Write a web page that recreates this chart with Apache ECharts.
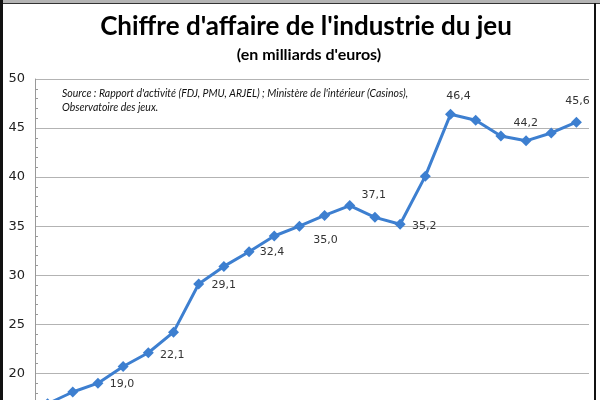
<!DOCTYPE html>
<html><head><meta charset="utf-8">
<script src="https://cdn.jsdelivr.net/npm/echarts@6/dist/echarts.min.js"></script>
<style>html,body{margin:0;padding:0;background:#fff;overflow:hidden}#c{width:600px;height:423px}</style>
</head><body><div id="c"></div>
<script>
// Data (22 yearly points; the x-axis labels are cut off in the reference)
const categories = ['1990','1991','1992','1993','1994','1995','1996','1997','1998','1999','2000','2001','2002','2003','2004','2005','2006','2007','2008','2009','2010','2011'];
const values = [16.9, 18.1, 19.0, 20.7, 22.1, 24.2, 29.1, 30.9, 32.4, 34.0, 35.0, 36.1, 37.1, 35.9, 35.2, 40.1, 46.4, 45.8, 44.2, 43.7, 44.5, 45.6];
const labelledIdx = [2, 4, 6, 8, 10, 12, 14, 16, 18, 21];
const yTicks = [15, 20, 25, 30, 35, 40, 45, 50];
const titleText = "Chiffre d'affaire de l'industrie du jeu";
const subtitleText = "(en milliards d'euros)";
const sourceLines = ["Source : Rapport d'activité (FDJ, PMU, ARJEL) ; Ministère de l'intérieur (Casinos),", "Observatoire des jeux."];

// label placement (layout only)
const labelOffsets = {2:[24,1],4:[24,2],6:[25,1],8:[23,0],10:[26,14],12:[24,-10],14:[24,2],16:[8,-18],18:[25,-13],21:[1,-21]};

const seriesData = values.map((v, i) => {
  if (labelledIdx.indexOf(i) >= 0) {
    return {value: v, label: {show: true, position: 'inside', offset: labelOffsets[i],
      formatter: p => p.value.toFixed(1).replace('.', ','),
      fontFamily: 'DejaVu Sans', fontSize: 11, color: '#333'}};
  }
  return {value: v};
});

const chart = echarts.init(document.getElementById('c'), null, {renderer: 'canvas'});
chart.setOption({
  animation: false,
  backgroundColor: '#fff',
  grid: {left: 35, top: 79, right: 11, bottom: 0.6, containLabel: false, outerBoundsMode: 'none'},
  xAxis: {type: 'category', data: categories, boundaryGap: true,
    axisLine: {show: true, lineStyle: {color: '#999'}}, axisTick: {show: false}, axisLabel: {show: false}},
  yAxis: {type: 'value', min: yTicks[0], max: yTicks[yTicks.length-1], interval: 5,
    axisLine: {show: true, lineStyle: {color: '#999', width: 1}},
    axisTick: {show: false, inside: true},
    minorTick: {show: true, splitNumber: 5, length: 3, lineStyle: {color: '#999'}},
    axisLabel: {fontFamily: 'DejaVu Sans', fontSize: 13, color: '#222', margin: 10},
    splitLine: {show: true, lineStyle: {color: '#b3b3b3', width: 1}}},
  series: [{
    type: 'line', data: seriesData,
    symbol: 'diamond', symbolSize: 11,
    lineStyle: {color: '#3d7fd0', width: 3},
    itemStyle: {color: '#3d7fd0'},
    label: {show: false}
  }],
  graphic: [
    {type: 'text', x: 306, y: 14, style: {text: titleText, textAlign: 'center', fontFamily: 'Lato', fontWeight: 'bold', fontSize: 26, fill: '#000'}},
    {type: 'text', x: 309, y: 47, style: {text: subtitleText, textAlign: 'center', fontFamily: 'Lato', fontWeight: 'bold', fontSize: 16, fill: '#000'}},
    {type: 'text', left: 62, top: 87, style: {text: sourceLines.join('\n'), fontFamily: 'Lato', fontStyle: 'italic', fontSize: 10.5, lineHeight: 14, fill: '#111'}},
    {type: 'rect', shape: {x: 0, y: 0, width: 600, height: 3}, style: {fill: '#b4b4b4'}},
    {type: 'rect', shape: {x: 0, y: 3, width: 600, height: 1}, style: {fill: '#333'}},
    {type: 'rect', shape: {x: 0, y: 0, width: 3, height: 423}, style: {fill: '#111'}},
    {type: 'rect', shape: {x: 594, y: 3, width: 2, height: 420}, style: {fill: '#111'}}
  ]
});
</script></body></html>
